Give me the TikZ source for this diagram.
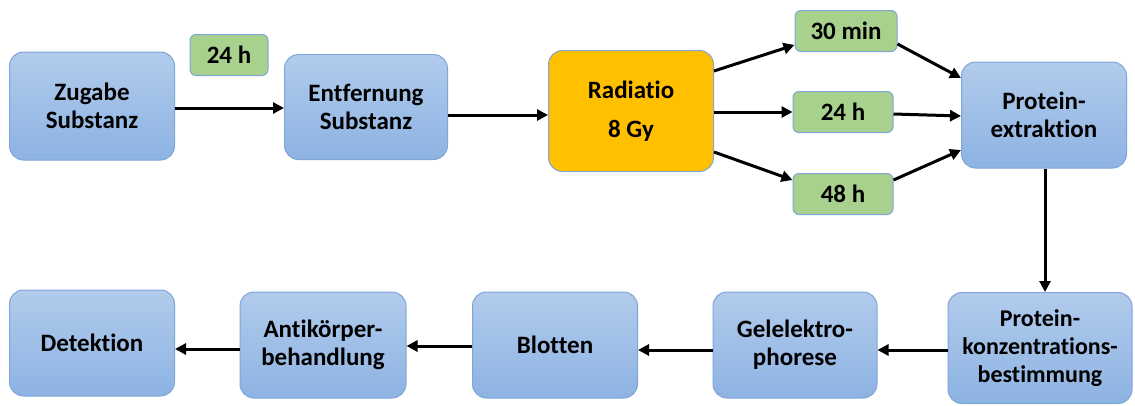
\documentclass[tikz,border=0pt]{standalone}
\usepackage{fontspec}
\setmainfont{Carlito}[Ligatures=NoCommon]
\usetikzlibrary{arrows.meta}
\definecolor{bluetop}{HTML}{B1CBEC}
\definecolor{bluebot}{HTML}{8DB3E2}
\definecolor{blueedge}{HTML}{7EA6D8}
\definecolor{greenfill}{HTML}{A9D18E}
\definecolor{orangefill}{HTML}{FFC000}
\begin{document}
\begin{tikzpicture}[x=1pt,y=-1pt,
  bigbox/.style={draw=blueedge, line width=1pt, rounded corners=14pt, top color=bluetop, bottom color=bluebot,
    align=center, font=\fontsize{25}{28}\selectfont\bfseries, inner sep=2pt},
  smallbox/.style={draw=blueedge, line width=1pt, rounded corners=6pt, fill=greenfill,
    minimum width=101pt, minimum height=41pt, font=\fontsize{25}{28}\selectfont\bfseries, inner sep=0pt},
  arr/.style={line width=3pt, -{Triangle[length=11pt,width=11pt]}}
]
\useasboundingbox (0,0) rectangle (1135,405);
\fill[white] (0,0) rectangle (1135,405);
% top row
\node[bigbox, minimum width=165pt, minimum height=108pt] (zug) at (92,106) {Zugabe\\Substanz};
\node[smallbox, minimum width=78pt] (t0) at (229,55) {24 h};
\node[bigbox, minimum width=163pt, minimum height=105pt] (ent) at (366,107) {Entfernung\\Substanz};
\node[bigbox, fill=orangefill, top color=orangefill, bottom color=orangefill, minimum width=165pt, minimum height=121pt,
  font=\fontsize{25}{39}\selectfont\bfseries] (rad) at (631,111) {Radiatio\\8 Gy};
\node[smallbox, minimum width=102pt] (t30) at (846,31) {30 min};
\node[smallbox, minimum width=100pt] (t24) at (843,112) {24 h};
\node[smallbox, minimum width=100pt] (t48) at (843,194) {48 h};
\node[bigbox, minimum width=165pt, minimum height=106pt] (pext) at (1044,115) {Protein-\\extraktion};
% bottom row
\node[bigbox, minimum width=184pt, minimum height=111pt, font=\fontsize{24}{28}\selectfont\bfseries] (pkon) at (1040,348) {Protein-\\konzentrations-\\bestimmung};
\node[bigbox, minimum width=164pt, minimum height=106pt] (gel) at (795,345) {Gelelektro-\\phorese};
\node[bigbox, minimum width=165pt, minimum height=106pt] (blot) at (555,345) {Blotten};
\node[bigbox, minimum width=166pt, minimum height=106pt] (anti) at (323,345) {Antikörper-\\behandlung};
\node[bigbox, minimum width=165pt, minimum height=106pt] (det) at (92,343) {Detektion};
% connectors
\draw[arr] (zug.east |- 0,108) -- (ent.west |- 0,108);
\draw[arr] (ent.east |- 0,115) -- (rad.west |- 0,115);
\draw[arr] (rad.east |- 0,71) -- (t30.west |- 0,45);
\draw[arr] (rad.east |- 0,112) -- (t24.west |- 0,112);
\draw[arr] (rad.east |- 0,152) -- (t48.west |- 0,180);
\draw[arr] (t30.east |- 0,44) -- (pext.west |- 0,78);
\draw[arr] (t24.east |- 0,114) -- (pext.west |- 0,116);
\draw[arr] (t48.east |- 0,180) -- (pext.west |- 0,150);
\draw[arr] (pext.south -| 1045,0) -- (pkon.north -| 1045,0);
\draw[arr] (pkon.west |- 0,350) -- (gel.east |- 0,350);
\draw[arr] (gel.west |- 0,350) -- (blot.east |- 0,350);
\draw[arr] (blot.west |- 0,346) -- (anti.east |- 0,346);
\draw[arr] (anti.west |- 0,349) -- (det.east |- 0,349);
\end{tikzpicture}
\end{document}
